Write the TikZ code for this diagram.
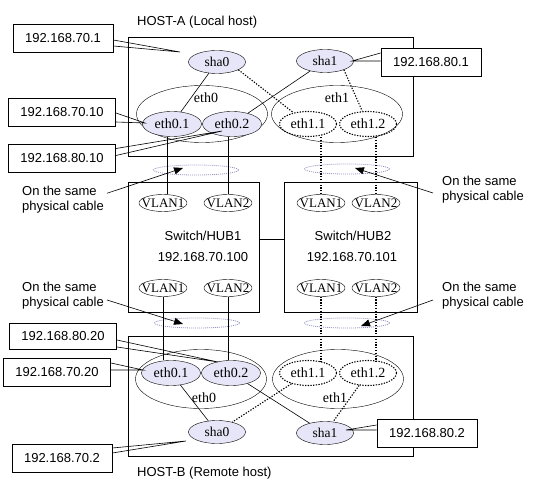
\documentclass[tikz,border=0pt]{standalone}
\usepackage{fontspec}
\setmainfont{Liberation Serif}
\setsansfont{Liberation Sans}
\usepackage{tikz}
\usetikzlibrary{shapes.geometric, arrows.meta, positioning, calc}
\definecolor{ifblue}{RGB}{230,230,248}
\definecolor{cablegray}{RGB}{150,150,195}

\begin{document}
\begin{tikzpicture}[
  x=1pt, y=-1pt,
  hostbox/.style={rectangle, draw, line width=0.8pt, minimum width=285pt, minimum height=119pt, inner sep=0pt},
  hubbox/.style={rectangle, draw, line width=0.8pt, minimum height=130pt, inner sep=0pt},
  ipbox/.style={rectangle, draw, line width=0.8pt, fill=white, font=\sffamily\fontsize{13}{15}\selectfont, minimum height=28pt, inner xsep=12pt},
  port/.style={ellipse, draw, fill=ifblue, font=\fontsize{14}{16}\selectfont, minimum width=59pt, minimum height=25pt, inner sep=-3pt},
  vport/.style={ellipse, draw, dash pattern=on 1.3pt off 1.4pt, line width=1.1pt, font=\fontsize{14}{16}\selectfont, minimum width=57pt, minimum height=25pt, inner sep=-3pt},
  sha/.style={ellipse, draw, fill=ifblue, font=\fontsize{13.5}{15}\selectfont, minimum width=57pt, minimum height=23pt, inner sep=-3pt},
  phys/.style={ellipse, draw, minimum width=131pt, minimum height=57pt},
  vlan/.style={ellipse, draw, font=\fontsize{13}{15}\selectfont, minimum width=48pt, minimum height=17pt, inner xsep=-5pt, inner ysep=-3pt},
  cable/.style={ellipse, draw=cablegray, line width=0.8pt, dash pattern=on 1pt off 1pt, minimum width=85pt, minimum height=10pt, inner sep=0pt},
  txt/.style={font=\sffamily\fontsize{13}{15}\selectfont, inner sep=0pt, align=left},
  eltxt/.style={font=\fontsize{14}{16}\selectfont, inner sep=0pt},
  tail/.style={line width=0.6pt},
  vline/.style={line width=0.6pt},
  dline/.style={line width=1.1pt, dash pattern=on 1.3pt off 1.5pt},
  arrow/.style={-{Triangle[length=9pt,width=7pt]}, line width=0.6pt}
]
  \useasboundingbox (0,0) rectangle (538,494);

  % hosts and switches
  \node[hostbox] (hostA) at (270.5,96.5) {};
  \node[hostbox, minimum height=120pt] (hostB) at (270.5,396) {};
  \node[txt, anchor=west] (hostAlbl) at (137,22) {HOST-A (Local host)};
  \node[txt, anchor=west] (hostBlbl) at (137,473) {HOST-B (Remote host)};
  \node[hubbox, minimum width=131pt] (hub1) at (193.5,247) {};
  \node[hubbox, minimum width=133pt] (hub2) at (350.5,247) {};
  \node[txt] (hub1name) at (203,236) {Switch/HUB1};
  \node[txt] (hub1ip) at (203,257) {192.168.70.100};
  \node[txt] (hub2name) at (353,236) {Switch/HUB2};
  \node[txt] (hub2ip) at (352,257) {192.168.70.101};
  \draw[vline] ([yshift=8pt]hub1.east) -- ([yshift=8pt]hub2.west);

  % HOST-A interfaces
  \node[phys] (eth0A) at (202,114) {};
  \node[phys] (eth1A) at (337,114) {};
  \node[eltxt] (eth0Albl) at (206,98) {eth0};
  \node[eltxt] (eth1Albl) at (337,98) {eth1};
  \node[port] (e01A) at (172,124) {eth0.1};
  \node[port] (e02A) at (232,124) {eth0.2};
  \node[vport] (e11A) at (308,124) {eth1.1};
  \node[vport] (e12A) at (368,124) {eth1.2};
  \node[sha] (sha0A) at (217,62) {sha0};
  \node[sha] (sha1A) at (325,61) {sha1};
  \draw[vline] (sha0A) -- (e01A);
  \draw[vline] (sha1A) -- (e02A);
  \draw[dline] (sha0A.-20) -- (e11A);
  \draw[dline] (sha1A.-25) -- (e12A);

  % HOST-B interfaces
  \node[phys, minimum height=59pt] (eth0B) at (201,379) {};
  \node[phys, minimum height=59pt] (eth1B) at (338,379) {};
  \node[eltxt] (eth0Blbl) at (204,398) {eth0};
  \node[eltxt] (eth1Blbl) at (335,398) {eth1};
  \node[port] (e01B) at (171,373) {eth0.1};
  \node[port] (e02B) at (231,373) {eth0.2};
  \node[vport] (e11B) at (308,373) {eth1.1};
  \node[vport] (e12B) at (368,373) {eth1.2};
  \node[sha] (sha0B) at (217,432) {sha0};
  \node[sha] (sha1B) at (325,433) {sha1};
  \draw[vline] (e01B) -- (sha0B);
  \draw[vline] (e02B) -- (sha1B);
  \draw[dline] (e11B) -- (sha0B);
  \draw[dline] (e12B) -- (sha1B);

  % VLANs
  \node[vlan] (v11t) at (163,203) {VLAN1};
  \node[vlan] (v12t) at (228,203) {VLAN2};
  \node[vlan] (v11b) at (163,288) {VLAN1};
  \node[vlan] (v12b) at (228,288) {VLAN2};
  \node[vlan] (v21t) at (321,203) {VLAN1};
  \node[vlan] (v22t) at (376,203) {VLAN2};
  \node[vlan] (v21b) at (321,288) {VLAN1};
  \node[vlan] (v22b) at (376,288) {VLAN2};

  % cables
  \node[cable] (cab1t) at (196,170) {};
  \node[cable] (cab2t) at (347,169) {};
  \node[cable] (cab1b) at (197,323) {};
  \node[cable] (cab2b) at (347,323) {};
  \draw[vline] ([xshift=4pt]v11t.north) -- ([xshift=4pt]v11t.north |- e01A.south);
  \draw[vline] (v12t.north) -- (v12t.north |- e02A.south);
  \draw[dline] (v21t.north) -- ([yshift=1.5pt]v21t.north |- e11A.south);
  \draw[dline] (v22t.north) -- ([yshift=1.5pt]v22t.north |- e12A.south);
  \draw[vline] (v11b.south) -- (v11b.south |- e01B.north);
  \draw[vline] (v12b.south) -- (v12b.south |- e02B.north);
  \draw[dline] (v21b.south) -- ([yshift=-1.5pt]v21b.south |- e11B.north);
  \draw[dline] (v22b.south) -- ([yshift=-1.5pt]v22b.south |- e12B.north);

  % cable notes
  \node[txt, anchor=west] (noteA) at (22,200) {On the same\\physical cable};
  \node[txt, anchor=west] (noteB) at (442,189.5) {On the same\\physical cable};
  \node[txt, anchor=west] (noteC) at (22,295.5) {On the same\\physical cable};
  \node[txt, anchor=west] (noteD) at (442,295.5) {On the same\\physical cable};
  \coordinate (tipA) at (183,168);
  \coordinate (tipB) at (355,168);
  \coordinate (tipC) at (183,324);
  \coordinate (tipD) at (361,326);
  \draw[arrow] ([shift={(3pt,-7pt)}]noteA.north east) -- (tipA);
  \draw[arrow] ([shift={(-9pt,-3.5pt)}]noteB.west) -- (tipB);
  \draw[arrow] ([shift={(3pt,-4.5pt)}]noteC.east) -- (tipC);
  \draw[arrow] ([shift={(-9pt,-4.5pt)}]noteD.west) -- (tipD);

  % address call-outs
  \node[ipbox] (ip701) at (63,38) {192.168.70.1};
  \node[ipbox] (ip7010) at (62,112) {192.168.70.10};
  \node[ipbox] (ip8010) at (62,158.5) {192.168.80.10};
  \node[ipbox] (ip801) at (431,62) {192.168.80.1};
  \node[ipbox, minimum height=26pt] (ip8020) at (63,336) {192.168.80.20};
  \node[ipbox] (ip7020) at (57,372) {192.168.70.20};
  \node[ipbox] (ip702) at (62,458) {192.168.70.2};
  \node[ipbox] (ip802) at (427,433) {192.168.80.2};
  \coordinate (at701) at (180,52);
  \coordinate (at7010) at (145,123);
  \coordinate (at8010) at (222,131);
  \coordinate (at801) at (352,61);
  \coordinate (at8020) at (218,362);
  \coordinate (at7020) at (143,370);
  \coordinate (at702) at (186,441);
  \coordinate (at802) at (346,430);
  \draw[tail] ([yshift=-2pt]ip701.east) -- (at701) -- ([yshift=-8pt]ip701.east);
  \draw[tail] ([yshift=-1pt]ip7010.east) -- (at7010) -- ([yshift=-10pt]ip7010.east);
  \draw[tail] ([yshift=10pt]ip8010.east) -- (at8010) -- ([yshift=3pt]ip8010.east);
  \draw[tail] ([yshift=9pt]ip801.west) -- (at801) -- ([yshift=1pt]ip801.west);
  \draw[tail] ([yshift=-4pt]ip8020.east) -- (at8020) -- ([yshift=-11pt]ip8020.east);
  \draw[tail] ([yshift=9pt]ip7020.east) -- (at7020) -- ([yshift=2pt]ip7020.east);
  \draw[tail] ([yshift=10pt]ip702.east) -- (at702) -- ([yshift=5pt]ip702.east);
  \draw[tail] ([yshift=8pt]ip802.west) -- (at802) -- ([yshift=3pt]ip802.west);
\end{tikzpicture}
\end{document}
